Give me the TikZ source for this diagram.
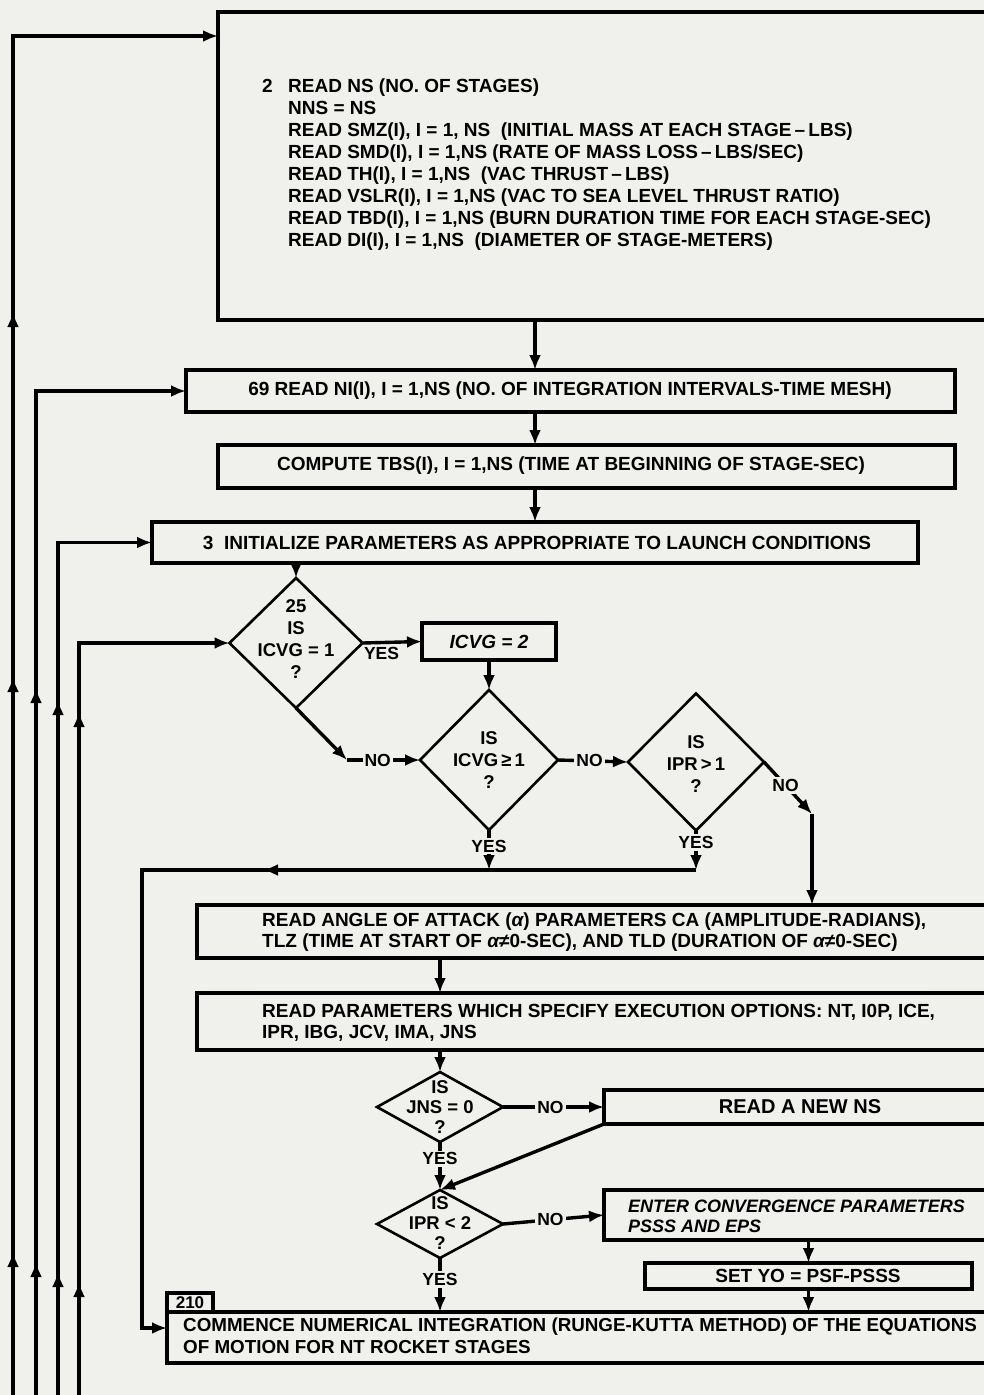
\documentclass[tikz,border=0pt]{standalone}
\usepackage{fontspec}
\setmainfont{Liberation Sans}
\usetikzlibrary{arrows.meta,shapes.geometric,decorations.markings,calc}
\definecolor{bg}{RGB}{240,240,237}
\newcommand{\myfa}{\bfseries\fontsize{19}{22}\selectfont}
\newcommand{\myfb}{\bfseries\fontsize{19}{21.5}\selectfont}
\newcommand{\myfd}{\bfseries\fontsize{18.5}{22}\selectfont}
\newcommand{\myfs}{\bfseries\fontsize{18.5}{20}\selectfont}
\newcommand{\myfl}{\bfseries\fontsize{17.5}{20}\selectfont}
\begin{document}
\begin{tikzpicture}[x=1pt,y=-1pt,
  box/.style={draw, line width=3.2pt, rectangle, inner sep=0pt, outer sep=0pt, anchor=north west},
  dia/.style={draw, line width=2.6pt, diamond, inner sep=0pt, outer sep=0pt},
  txta/.style={inner sep=0pt, font=\myfa, align=left},
  txtb/.style={inner sep=0pt, font=\myfb, align=left},
  lbl/.style={fill=bg, inner sep=2pt, font=\myfl},
  arr/.style={line width=3.4pt, -{Latex[length=15pt,width=12pt]}},
  tipmark/.style={postaction={decorate}}
]
\useasboundingbox (0,0) rectangle (984,1395);
\fill[bg] (0,0) rectangle (984,1395);
\clip (0,0) rectangle (984,1395);

% ---------- boxes ----------
\node[box, minimum width=800pt, minimum height=308pt] (top) at (218,12) {};
\node[box, minimum width=769pt, minimum height=42pt] (b69) at (186,370) {};
\node[box, minimum width=737pt, minimum height=43pt] (tbs) at (218,445) {};
\node[box, minimum width=766pt, minimum height=41pt] (b3) at (152,522) {};
\node[box, minimum width=134pt, minimum height=37pt] (icvg) at (422,623) {};
\node[box, minimum width=800pt, minimum height=53pt] (angle) at (197,905) {};
\node[box, minimum width=800pt, minimum height=57pt] (params) at (197,993) {};
\node[box, minimum width=400pt, minimum height=34pt] (newns) at (604,1090) {};
\node[box, minimum width=400pt, minimum height=50pt] (enter) at (604,1190) {};
\node[box, minimum width=327pt, minimum height=26pt] (setyo) at (645,1263) {};
\node[box, minimum width=830pt, minimum height=51pt] (comm) at (167,1312) {};
\node[box, minimum width=46pt, minimum height=19pt] (tab) at (167,1293) {};

% ---------- diamonds ----------
\node[dia, minimum width=133pt, minimum height=130pt] (d25) at (296,643) {};
\node[dia, minimum width=138pt, minimum height=140pt] (d1) at (489,760) {};
\node[dia, minimum width=136pt, minimum height=137pt] (d2) at (696,762) {};
\node[dia, minimum width=126pt, minimum height=70pt] (djns) at (440,1107) {};
\node[dia, minimum width=126pt, minimum height=68pt] (dipr) at (440,1224) {};

% ---------- texts ----------
\node[txta, anchor=west] (ttop) at (262,165) {%
\makebox[26pt][l]{2}READ NS (NO. OF STAGES)\\
\hspace*{26pt}NNS = NS\\
\hspace*{26pt}READ SMZ(I), I = 1, NS\ \ (INITIAL MASS AT EACH STAGE\,--\,LBS)\\
\hspace*{26pt}READ SMD(I), I = 1,NS (RATE OF MASS LOSS\,--\,LBS/SEC)\\
\hspace*{26pt}READ TH(I), I = 1,NS\ \ (VAC THRUST\,--\,LBS)\\
\hspace*{26pt}READ VSLR(I), I = 1,NS (VAC TO SEA LEVEL THRUST RATIO)\\
\hspace*{26pt}READ TBD(I), I = 1,NS (BURN DURATION TIME FOR EACH STAGE-SEC)\\
\hspace*{26pt}READ DI(I), I = 1,NS\ \ (DIAMETER OF STAGE-METERS)};
\node[txta] (t69) at (570,391) {69 READ NI(I), I = 1,NS (NO. OF INTEGRATION INTERVALS-TIME MESH)};
\node[txta] (ttbs) at (571,466) {COMPUTE TBS(I), I = 1,NS (TIME AT BEGINNING OF STAGE-SEC)};
\node[txta] (t3) at (537,543) {3\ \ INITIALIZE PARAMETERS AS APPROPRIATE TO LAUNCH CONDITIONS};
\node[txta, font=\myfa\itshape] (ticvg) at (icvg.center) {ICVG = 2};
\node[txta, align=center, font=\myfd] (td25) at (296,639) {25\\IS\\ICVG = 1\\?};
\node[txta, align=center, font=\myfd] (td1) at (489,760) {IS\\ICVG\,≥\,1\\?};
\node[txta, align=center, font=\myfd] (td2) at (696,764) {IS\\IPR\,>\,1\\?};
\node[txtb, anchor=west] (tangle) at (262,932) {READ ANGLE OF ATTACK ({\itshape α}) PARAMETERS CA (AMPLITUDE-RADIANS),\\
TLZ (TIME AT START OF {\itshape α}≠0-SEC), AND TLD (DURATION OF {\itshape α}≠0-SEC)};
\node[txtb, anchor=west] (tparams) at (262,1023) {READ PARAMETERS WHICH SPECIFY EXECUTION OPTIONS: NT, I0P, ICE,\\
IPR, IBG, JCV, IMA, JNS};
\node[txtb, align=center, font=\myfs] (tjns) at (440,1107) {IS\\JNS = 0\\?};
\node[txtb, font=\bfseries\fontsize{20}{22}\selectfont] (tnewns) at (800,1107) {READ A NEW NS};
\node[txtb, align=center, font=\myfs] (tipr) at (440,1223) {IS\\IPR < 2\\?};
\node[txtb, anchor=west, font=\bfseries\itshape\fontsize{18}{20}\selectfont] (tenter) at (628,1216) {ENTER CONVERGENCE PARAMETERS\\PSSS AND EPS};
\node[txtb] (tsetyo) at (808,1276) {SET YO = PSF-PSSS};
\node[txtb, anchor=west, font=\bfseries\fontsize{18.8}{21.5}\selectfont] (tcomm) at (183,1336) {COMMENCE NUMERICAL INTEGRATION (RUNGE-KUTTA METHOD) OF THE EQUATIONS\\
OF MOTION FOR NT ROCKET STAGES};
\node[txtb, font=\bfseries\fontsize{17}{20}\selectfont] (t210) at (tab.center) {210};

% ---------- main flow ----------
\coordinate (X1) at (535,0);
\draw[arr] (top.south -| X1) -- (b69.north -| X1);
\draw[arr] (b69.south -| X1) -- (tbs.north -| X1);
\draw[arr] (tbs.south -| X1) -- (b3.north -| X1);
\draw[arr] (b3.south -| d25.north) -- (d25.north);
\draw[arr] (d25.east) -- node[lbl, pos=0.32, below=1pt, fill=none]{YES} (icvg.west);
\draw[arr] (icvg.south) -- (d1.north);
\coordinate (n1) at (347,760);
\draw[arr] (d25.south) -- (n1);
\draw[arr] (n1) -- node[lbl, pos=0.42]{NO} (d1.west);
\draw[arr] (d1.east) -- node[lbl, pos=0.45]{NO} (d2.west);
\coordinate (n2) at (812,814);
\draw[arr] (d2.east) -- node[lbl, pos=0.45]{NO} (n2);
\draw[arr] (n2) -- (n2 |- angle.north);
\coordinate (j1) at (142,870);
\draw[arr] (d1.south) -- node[lbl, pos=0.4]{YES} (d1.south |- j1);
\draw[arr] (d2.south) -- node[lbl, pos=0.3]{YES} (d2.south |- j1);
\coordinate (cin) at ($(comm.north west)+(0,16)$);
\draw[arr, tipmark, decoration={markings, mark=at position 433pt with {\arrow{Latex[length=15pt,width=12pt]}}}]
  (d2.south |- j1) -- (j1) -- (j1 |- cin) -- (cin);
\coordinate (X2) at (440,0);
\draw[arr] (angle.south -| X2) -- (params.north -| X2);
\draw[arr] (params.south -| djns.north) -- (djns.north);
\draw[arr] (djns.east) -- node[lbl, pos=0.47]{NO} (newns.west);
\draw[arr] (newns.south west) -- (dipr.north);
\draw[arr] (djns.south) -- node[lbl, pos=0.35]{YES} (dipr.north);
\draw[arr] (dipr.east) -- node[lbl, pos=0.47]{NO} (enter.west);
\draw[arr] (enter.south -| setyo.north) -- (setyo.north);
\draw[arr] (setyo.south) -- (setyo.south |- comm.north);
\draw[arr] (dipr.south) -- node[lbl, pos=0.4]{YES} (dipr.south |- comm.north);

% ---------- return loops on the left ----------
\coordinate (L1) at (13,1400);
\coordinate (L2) at (36,1400);
\coordinate (L3) at (58,1400);
\coordinate (L4) at (79,1400);
\coordinate (e1) at ($(top.north west)+(0,24)$);
\draw[arr, tipmark, decoration={markings,
   mark=at position 148pt with {\arrow{Latex[length=15pt,width=12pt]}},
   mark=at position 723pt with {\arrow{Latex[length=15pt,width=12pt]}},
   mark=at position 1088pt with {\arrow{Latex[length=15pt,width=12pt]}}}]
  (L1) -- (L1 |- e1) -- (e1);
\draw[arr, tipmark, decoration={markings,
   mark=at position 138pt with {\arrow{Latex[length=15pt,width=12pt]}},
   mark=at position 712pt with {\arrow{Latex[length=15pt,width=12pt]}}}]
  (L2) -- (L2 |- b69.west) -- (b69.west);
\draw[arr, tipmark, decoration={markings,
   mark=at position 128pt with {\arrow{Latex[length=15pt,width=12pt]}},
   mark=at position 700pt with {\arrow{Latex[length=15pt,width=12pt]}}}]
  (L3) -- (L3 |- b3.west) -- (b3.west);
\draw[arr, tipmark, decoration={markings,
   mark=at position 118pt with {\arrow{Latex[length=15pt,width=12pt]}},
   mark=at position 688pt with {\arrow{Latex[length=15pt,width=12pt]}}}]
  (L4) -- (L4 |- d25.west) -- (d25.west);
\end{tikzpicture}
\end{document}
